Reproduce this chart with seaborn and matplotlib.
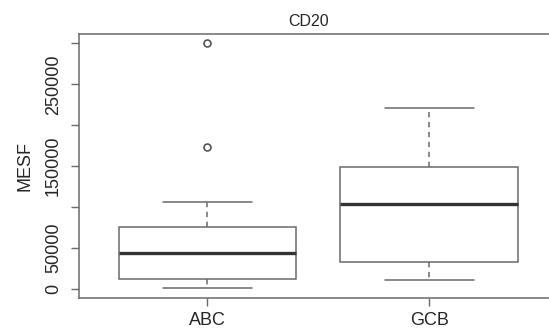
import numpy as np
import pandas as pd
import matplotlib
matplotlib.use("Agg")
import matplotlib.pyplot as plt
import seaborn as sns

# ---- data ----
categories = ["ABC", "GCB"]
# five-number summaries: lower whisker, Q1, median, Q3, upper whisker
abc_summary = [1000, 12200, 44300, 75300, 106000]
gcb_summary = [11000, 33000, 103800, 149300, 220600]
abc_outliers = [174000, 300000]
gcb_outliers = []
ytick_values = [0, 50000, 100000, 150000, 200000, 250000, 300000]
ytick_labels = ["0", "50000", "", "150000", "", "250000", ""]
title = "CD20"
ylabel = "MESF"

sns.set_style("white")
plt.rcParams["font.family"] = ["Liberation Sans", "DejaVu Sans"]

df = pd.DataFrame({
    "group": ["ABC"] * len(abc_summary) + ["GCB"] * len(gcb_summary),
    "value": abc_summary + gcb_summary,
})
df_out = pd.DataFrame({
    "group": ["ABC"] * len(abc_outliers) + ["GCB"] * len(gcb_outliers),
    "value": abc_outliers + gcb_outliers,
})

line_col = "#6a6a6a"
fig = plt.figure(figsize=(5.49, 3.32), dpi=100)
ax = fig.add_axes([0.1434, 0.1024, 0.8727, 0.795])

sns.boxplot(
    data=df, x="group", y="value", order=categories, ax=ax,
    width=0.8, whis=10, fliersize=0, linewidth=1.1,
    boxprops=dict(facecolor="white", edgecolor=line_col),
    whiskerprops=dict(color=line_col, linestyle=(0, (3.5, 3))),
    capprops=dict(color=line_col),
    medianprops=dict(color="#333333", linewidth=2.4),
)
sns.stripplot(
    data=df_out, x="group", y="value", order=categories, ax=ax,
    jitter=False, color="white", edgecolor="#555555", linewidth=1.2,
    size=5, marker="o", zorder=5,
)

ax.set_xlim(-0.58, 1.58)
ax.set_ylim(-11000, 311400)
ax.set_yticks(ytick_values)
ax.set_yticklabels(ytick_labels, rotation=90, va="center", fontsize=13)
ax.set_xticks(range(len(categories)))
ax.set_xticklabels(categories, fontsize=13)
ax.tick_params(axis="both", direction="out", length=6, width=1, color=line_col,
               left=True, bottom=True, pad=4)
ax.tick_params(axis="y", pad=6)
for s in ax.spines.values():
    s.set_color(line_col)
    s.set_linewidth(1.1)
ax.set_xlabel("")
ax.set_ylabel(ylabel, fontsize=13, labelpad=8)
ax.set_title(title, fontsize=11.5, pad=6, x=0.479)

fig.savefig("out.png", dpi=100)
